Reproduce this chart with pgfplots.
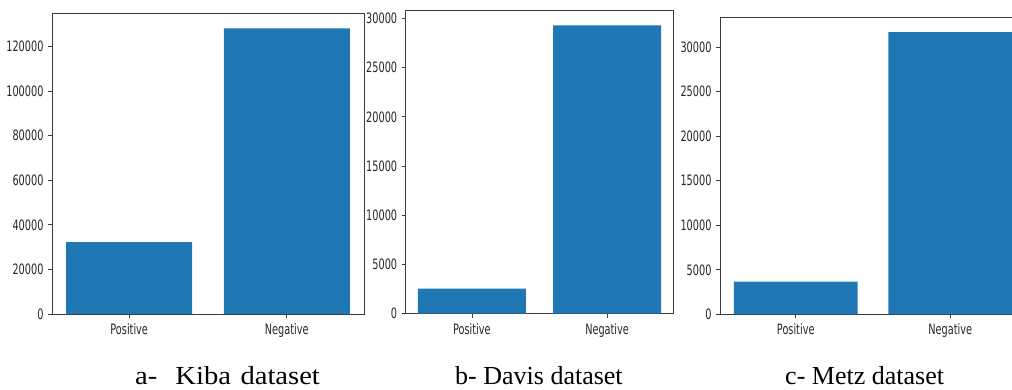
\documentclass[border=0pt]{standalone}
\usepackage{fontspec}
\setmainfont{Liberation Serif}
\newfontfamily\tickfont[FakeStretch=0.68]{DejaVu Sans}
\newfontfamily\capwide[FakeStretch=1.1]{Liberation Serif}
\usepackage{pgfplots}
\pgfplotsset{compat=1.18}
\definecolor{mplblue}{HTML}{1F77B4}
\definecolor{spine}{HTML}{3A3A3A}
\pgfplotsset{
  mpl/.style={
    scale only axis,
    anchor=south west,
    ybar,
    bar width=0.8,
    bar shift=0pt,
    xmin=-0.49, xmax=1.49,
    ymin=0,
    xtick={0,1},
    xticklabels={Positive,Negative},
    xtick pos=left, ytick pos=left,
    tick align=outside,
    major tick length=4pt,
    tick style={spine, line width=0.8pt},
    axis line style={spine, line width=1pt},
    scaled ticks=false,
    yticklabel={\pgfmathprintnumber[fixed,precision=0,1000 sep={},assume math mode=true]{\tick}},
    ticklabel style={font=\tickfont\fontsize{14.3}{16}\selectfont, text=black!85},
    xticklabel style={yshift=-2pt},
    yticklabel style={xshift=-1pt},
  }
}
\begin{document}
\begin{tikzpicture}
% panel a
\begin{axis}[mpl, at={(52pt,75pt)}, width=312pt, height=300pt,
  ymax=134600, ytick={0,20000,40000,60000,80000,100000,120000}]
\addplot[fill=mplblue, draw=none] coordinates {(0,32200) (1,128100)};
\end{axis}
% panel b
\begin{axis}[mpl, at={(405.7pt,75.3pt)}, width=267.6pt, height=303.4pt,
  ymax=30830, ytick={0,5000,10000,15000,20000,25000,30000}]
\addplot[fill=mplblue, draw=none] coordinates {(0,2540) (1,29310)};
\end{axis}
% panel c
\begin{axis}[mpl, at={(720pt,74.7pt)}, width=306pt, height=296.3pt,
  ymax=33290, ytick={0,5000,10000,15000,20000,25000,30000}]
\addplot[fill=mplblue, draw=none] coordinates {(0,3660) (1,31690)};
\end{axis}
\node[anchor=base west, inner sep=0pt, font=\capwide\fontsize{26}{30}\selectfont] at (135pt,4.3pt) {a-\hspace{18pt}Kiba\hspace{9.5pt}dataset};
\node[anchor=base west, inner sep=0pt, font=\fontsize{26}{30}\selectfont] at (455pt,4.3pt) {b- Davis dataset};
\node[anchor=base west, inner sep=0pt, font=\fontsize{26}{30}\selectfont] at (785pt,4.3pt) {c- Metz dataset};
\pgfresetboundingbox
\path (0pt,0pt) rectangle (1012pt,389pt);
\end{tikzpicture}
\end{document}
